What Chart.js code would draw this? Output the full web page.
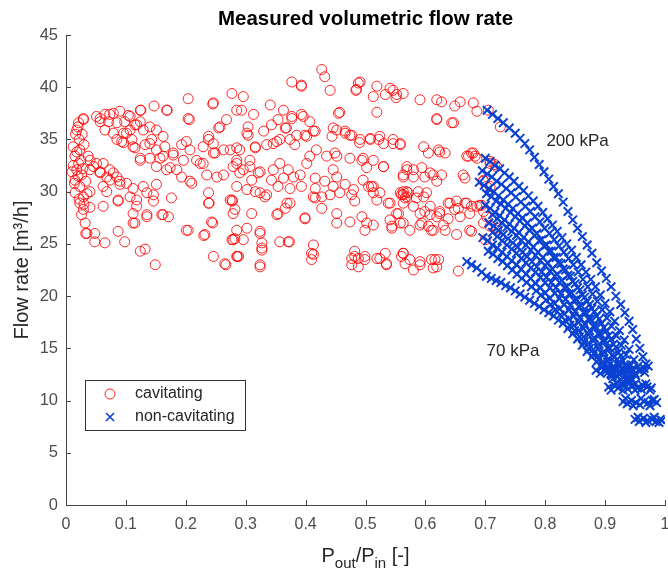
<!DOCTYPE html>
<html>
<head>
<meta charset="utf-8">
<script src="https://cdn.jsdelivr.net/npm/chart.js@4.4.1/dist/chart.umd.min.js"></script>
<style>
  html, body { margin: 0; padding: 0; background: #fff; }
</style>
</head>
<body>
<canvas id="myChart" width="668" height="573"></canvas>
<script>
// [Pout/Pin, flow rate]
const cavitating = [
  [0.204,38.9],[0.277,39.4],[0.245,38.4],[0.147,38.2],[0.169,37.8],[0.125,37.8],[0.206,36.9],[0.268,36.9],[0.255,36.1],[0.285,37.8],
  [0.029,36.9],[0.021,36.6],[0.018,35.9],[0.022,35.0],[0.012,34.3],[0.023,34.0],[0.015,33.4],[0.021,32.7],[0.018,32.1],[0.026,31.6],
  [0.015,31.1],[0.023,30.5],[0.015,29.9],[0.029,29.5],[0.023,28.9],[0.029,28.3],[0.026,27.8],[0.032,27.0],[0.035,26.0],[0.048,26.0],
  [0.048,25.2],[0.065,25.1],[0.040,30.0],
  [0.051,37.2],[0.065,37.4],[0.079,37.5],[0.090,37.7],[0.104,37.3],[0.057,36.7],[0.071,36.7],[0.085,36.6],[0.098,36.7],[0.115,36.4],
  [0.124,36.7],[0.065,35.9],[0.079,35.6],[0.096,35.6],[0.107,35.9],[0.129,35.9],[0.140,36.2],[0.151,35.9],[0.093,34.8],[0.110,35.0],
  [0.115,34.2],[0.132,34.5],[0.143,35.0],[0.162,35.3],[0.165,34.3],[0.179,33.7],[0.151,34.0],[0.157,33.2],[0.124,33.2],[0.140,33.2],
  [0.168,32.1],[0.201,34.8],[0.207,34.0],[0.196,33.0],[0.185,32.1],[0.193,31.4],[0.210,30.8],[0.229,34.3],[0.238,35.0],[0.246,34.6],
  [0.263,34.0],[0.249,33.7],[0.229,32.7],[0.235,31.6],[0.252,31.4],[0.263,31.6],[0.279,32.4],[0.285,34.2],[0.285,30.5],
  [0.040,33.0],[0.046,32.4],[0.057,31.8],[0.062,32.7],[0.073,32.1],[0.073,31.1],[0.085,31.4],[0.090,30.7],[0.101,30.8],[0.112,30.3],
  [0.062,30.5],[0.068,30.0],[0.107,29.5],[0.118,29.2],[0.135,29.9],[0.146,29.7],[0.146,29.1],[0.118,28.6],[0.112,27.9],[0.135,27.6],
  [0.160,27.8],[0.171,27.6],[0.176,29.4],[0.062,28.6],[0.087,29.1],[0.112,27.0],[0.087,26.2],[0.098,25.2],[0.124,24.3],[0.132,24.5],
  [0.149,23.0],[0.201,26.3],[0.232,25.9],[0.243,27.1],[0.238,28.9],[0.238,29.9],[0.246,23.8],[0.265,23.1],[0.279,25.4],[0.285,23.8],
  [0.277,29.2],[0.279,27.9],[0.218,33.0],[0.151,30.7],[0.129,30.5],
  [0.029,37.0],[0.037,33.4],[0.040,32.1],[0.051,32.7],[0.057,31.9],[0.068,31.4],[0.079,31.8],[0.090,31.0],[0.057,37.0],[0.073,37.4],
  [0.107,37.2],[0.118,36.4],[0.124,37.8],[0.168,37.8],[0.101,35.6],[0.096,34.7],[0.085,35.0],[0.112,34.3],[0.124,33.0],[0.140,34.6],
  [0.151,32.4],[0.162,33.4],[0.179,33.5],[0.174,32.3],[0.193,34.5],[0.204,37.0],[0.207,31.0],[0.224,32.7],[0.238,35.3],[0.246,38.5],
  [0.246,33.7],[0.257,36.2],[0.296,39.1],[0.293,37.8],[0.304,36.2],[0.302,35.6],[0.313,37.4],[0.316,34.3],[0.285,32.7],[0.290,31.8],
  [0.307,32.4],[0.310,31.1],[0.324,31.9],[0.341,38.3],[0.330,35.8],[0.346,34.6],[0.363,37.8],[0.368,36.1],[0.357,35.0],[0.377,40.5],
  [0.393,40.1],[0.377,37.2],[0.396,37.2],[0.399,35.4],[0.413,35.8],[0.427,41.7],[0.432,41.0],[0.441,39.7],[0.455,37.5],
  [0.087,29.2],[0.033,26.0],[0.115,27.0],[0.135,27.8],[0.162,27.8],[0.204,26.3],[0.230,25.8],[0.245,27.0],[0.239,28.9],[0.267,23.0],
  [0.278,29.1],[0.282,25.5],[0.286,23.8],[0.302,30.2],[0.310,27.9],[0.324,26.0],[0.327,24.6],[0.324,22.8],[0.335,29.7],[0.352,27.8],
  [0.357,25.2],[0.373,25.2],[0.369,28.9],[0.399,27.4],[0.413,24.9],[0.413,24.0],[0.410,23.5],[0.416,29.4],
  [0.366,36.1],[0.385,35.4],[0.407,36.7],[0.416,35.8],[0.402,35.3],[0.374,35.0],[0.352,34.8],[0.335,34.5],[0.382,34.5],[0.444,35.3],
  [0.452,35.9],[0.466,35.8],[0.477,35.4],[0.490,34.7],[0.508,35.0],[0.522,35.0],[0.530,34.6],[0.546,35.0],[0.558,34.6],[0.274,34.0],
  [0.290,34.0],[0.316,34.2],[0.418,34.0],[0.407,33.4],[0.435,33.4],[0.452,33.4],[0.402,32.7],[0.494,33.0],[0.502,32.3],[0.513,33.0],
  [0.530,32.4],[0.563,31.4],[0.569,32.4],
  [0.285,33.0],[0.296,32.1],[0.307,33.0],[0.321,31.8],[0.346,32.1],[0.357,32.7],[0.371,32.1],[0.380,31.4],[0.391,31.6],[0.363,31.3],
  [0.343,31.1],[0.354,30.5],[0.374,30.3],[0.393,30.5],[0.416,31.3],[0.416,30.3],[0.432,31.0],[0.452,31.4],[0.466,30.7],[0.446,30.5],
  [0.457,29.9],[0.441,29.7],[0.427,29.5],[0.413,29.5],[0.477,29.7],[0.482,29.1],[0.505,30.5],[0.513,29.9],[0.519,29.2],[0.538,28.9],
  [0.563,29.7],[0.569,30.0],[0.555,27.9],[0.541,27.3],[0.544,26.5],[0.563,27.0],[0.274,29.2],[0.282,28.3],[0.324,29.9],[0.332,29.5],
  [0.316,30.0],[0.354,27.9],[0.366,28.4],[0.374,28.9],[0.399,27.5],[0.427,28.4],[0.452,27.9],[0.474,27.1],[0.494,27.6],[0.502,27.0],
  [0.513,26.8],[0.499,26.3],[0.452,27.0],[0.285,26.3],[0.302,26.5],[0.324,26.2],[0.277,25.4],[0.296,25.4],[0.327,25.1],[0.371,25.2],
  [0.327,24.4],[0.410,24.1],[0.288,23.8],[0.324,23.0],[0.482,24.3],[0.488,23.6],[0.477,23.6],[0.499,23.5],[0.488,22.8],[0.519,23.6],
  [0.535,23.1],[0.533,24.1],[0.563,24.1],[0.566,23.1],
  [0.393,40.2],[0.488,40.4],[0.484,39.7],[0.519,40.1],[0.513,39.1],[0.533,39.3],[0.546,39.7],[0.563,39.4],[0.551,39.0],[0.519,37.6],
  [0.457,37.6],[0.393,37.4],[0.377,37.0],[0.354,36.9],[0.343,36.4],[0.304,35.4],
  [0.591,38.8],[0.619,38.8],[0.627,38.6],[0.649,38.2],[0.658,38.6],[0.680,38.5],[0.686,37.7],[0.705,37.8],[0.619,36.9],[0.644,36.6],
  [0.725,36.2],[0.597,34.3],[0.605,33.7],[0.622,34.0],[0.633,33.7],[0.669,33.4],[0.677,33.7],[0.683,33.4],[0.708,32.9],[0.716,32.6],
  [0.563,31.6],[0.580,32.1],[0.594,32.3],[0.599,31.4],[0.613,31.6],[0.627,31.6],[0.666,31.3],[0.697,31.0],[0.708,30.5],[0.558,29.9],
  [0.569,29.5],[0.588,30.0],[0.597,29.5],[0.563,28.9],[0.580,28.6],[0.608,28.6],[0.624,28.1],[0.641,28.9],[0.655,28.4],[0.666,28.9],
  [0.677,28.6],[0.691,28.7],[0.697,28.1],[0.702,27.6],[0.697,27.0],[0.719,26.5],[0.677,26.2],[0.658,27.6],[0.638,27.4],[0.619,27.6],
  [0.599,28.1],[0.594,27.0],[0.610,26.3],[0.630,26.8],[0.558,27.0],[0.574,26.3],[0.563,24.1],[0.574,23.5],[0.591,23.3],[0.580,22.5],
  [0.610,23.5],[0.622,23.5],[0.613,22.7],[0.655,22.4],
  [0.480,30.2],[0.510,30.5],[0.541,28.9],[0.552,27.9],[0.544,26.7],[0.560,29.7],[0.566,29.4],[0.571,29.9],[0.585,29.4],[0.591,27.9],
  [0.591,26.8],[0.605,26.7],[0.608,27.8],[0.624,27.9],[0.638,28.9],[0.649,28.3],[0.652,29.1],[0.669,28.9],[0.674,27.9],[0.686,28.6],
  [0.694,28.7],[0.708,26.7],[0.674,26.3],[0.652,25.9],[0.633,26.3],[0.613,26.3],[0.482,23.8],[0.477,23.0],[0.499,23.8],[0.524,23.6],
  [0.535,23.0],[0.560,23.8],[0.591,23.0],[0.616,23.5],[0.619,22.8],[0.700,25.4],[0.719,26.3],
  [0.491,40.5],[0.485,39.8],[0.541,39.9],[0.552,39.3],[0.619,37.0],[0.647,36.6],[0.446,36.1],[0.466,35.6],[0.474,35.4],[0.491,35.0],
  [0.508,35.1],[0.524,35.3],[0.546,34.6],[0.558,34.5],[0.624,33.8],[0.672,33.4],[0.680,33.7],[0.686,33.2],[0.708,32.7],[0.719,32.4],
  [0.449,33.7],[0.474,33.2],[0.496,33.2],[0.530,32.4],[0.569,32.1],[0.580,31.4],[0.608,31.8],[0.619,31.0],[0.663,31.6],[0.697,31.1],
  [0.702,30.5],[0.446,32.1],[0.496,31.1],[0.513,30.5],[0.524,29.9],[0.563,30.0],[0.602,29.9],
  [0.012,32.5],[0.018,33.8],[0.020,31.5],[0.025,33.0],[0.014,30.8],[0.030,34.5],[0.028,32.2],[0.016,35.5],[0.022,29.3],[0.010,31.9],
  [0.033,31.0],[0.035,29.8],[0.040,28.5],[0.030,28.8],[0.020,36.2],[0.027,35.5]
];

// non-cavitating runs, one list per inlet pressure, top (200 kPa) to bottom (70 kPa)
const run200 = [
  [0.703,37.8],[0.712,37.4],[0.721,37.0],[0.730,36.6],[0.740,36.1],[0.750,35.6],[0.758,35.1],[0.766,34.6],[0.774,34.0],[0.782,33.3],
  [0.790,32.6],[0.798,31.9],[0.806,31.2],[0.814,30.5],[0.822,29.8],[0.830,29.0],[0.838,28.1],[0.846,27.3],[0.854,26.5],[0.862,25.7],
  [0.870,24.9],[0.878,24.1],[0.886,23.2],[0.894,22.4],[0.902,21.7],[0.910,20.9],[0.918,20.0],[0.926,19.2],[0.933,18.4],[0.940,17.6],
  [0.946,16.8],[0.952,15.9],[0.958,15.0],[0.963,14.2],[0.968,13.5]
];
const run180 = [
  [0.700,33.2],[0.708,32.9],[0.716,32.5],[0.724,32.2],[0.732,31.8],[0.740,31.4],[0.748,31.0],[0.756,30.5],[0.764,30.1],[0.772,29.6],
  [0.780,29.1],[0.788,28.6],[0.796,28.0],[0.804,27.4],[0.812,26.8],[0.820,26.2],[0.828,25.6],[0.836,25.0],[0.844,24.4],[0.852,23.7],
  [0.860,23.0],[0.868,22.3],[0.876,21.6],[0.884,20.9],[0.892,20.1],[0.900,19.3],[0.908,18.5],[0.916,17.6],[0.924,16.7],[0.932,15.8],
  [0.940,14.9],[0.948,13.9],[0.956,12.9]
];
const run165 = [
  [0.695,32.0],[0.703,31.7],[0.711,31.4],[0.719,31.0],[0.727,30.7],[0.735,30.3],[0.743,29.9],[0.751,29.5],[0.759,29.0],[0.767,28.6],
  [0.775,28.1],[0.783,27.6],[0.791,27.1],[0.799,26.5],[0.807,26.0],[0.815,25.4],[0.823,24.8],[0.831,24.2],[0.839,23.6],[0.847,23.0],
  [0.855,22.3],[0.863,21.6],[0.871,20.9],[0.879,20.2],[0.887,19.5],[0.895,18.7],[0.903,17.9],[0.911,17.1],[0.919,16.2],[0.927,15.3],
  [0.935,14.4],[0.943,13.4],[0.951,12.4]
];
const run150 = [
  [0.690,30.9],[0.698,30.6],[0.706,30.3],[0.714,30.0],[0.722,29.6],[0.730,29.2],[0.738,28.8],[0.746,28.4],[0.754,27.9],[0.762,27.5],
  [0.770,27.0],[0.778,26.5],[0.786,26.0],[0.794,25.4],[0.802,24.9],[0.810,24.3],[0.818,23.7],[0.826,23.1],[0.834,22.5],[0.842,21.9],
  [0.850,21.2],[0.858,20.6],[0.866,19.9],[0.874,19.2],[0.882,18.5],[0.890,17.8],[0.898,17.0],[0.906,16.2],[0.914,15.4],[0.922,14.6],
  [0.930,13.8],[0.938,12.9],[0.946,12.0]
];
const run140 = [
  [0.702,29.8],[0.710,29.5],[0.718,29.1],[0.726,28.8],[0.734,28.4],[0.742,28.0],[0.750,27.6],[0.758,27.2],[0.766,26.7],[0.774,26.3],
  [0.782,25.8],[0.790,25.3],[0.798,24.8],[0.806,24.3],[0.814,23.7],[0.822,23.2],[0.830,22.6],[0.838,22.0],[0.846,21.4],[0.854,20.8],
  [0.862,20.1],[0.870,19.5],[0.878,18.8],[0.886,18.1],[0.894,17.4],[0.902,16.7],[0.910,15.9],[0.918,15.1],[0.926,14.3],[0.934,13.4],
  [0.942,12.5],[0.950,11.6]
];
const run130 = [
  [0.700,28.7],[0.708,28.4],[0.716,28.0],[0.724,27.7],[0.732,27.3],[0.740,26.9],[0.748,26.5],[0.756,26.1],[0.764,25.6],[0.772,25.2],
  [0.780,24.7],[0.788,24.2],[0.796,23.7],[0.804,23.2],[0.812,22.6],[0.820,22.1],[0.828,21.5],[0.836,20.9],[0.844,20.3],[0.852,19.7],
  [0.860,19.1],[0.868,18.4],[0.876,17.8],[0.884,17.1],[0.892,16.4],[0.900,15.7],[0.908,15.0],[0.916,14.2],[0.924,13.5],[0.932,12.7],
  [0.940,11.9]
];
const run120 = [
  [0.712,27.8],[0.720,27.4],[0.728,27.0],[0.736,26.6],[0.744,26.2],[0.752,25.8],[0.760,25.3],[0.768,24.9],[0.776,24.4],[0.784,23.9],
  [0.792,23.4],[0.800,22.9],[0.808,22.4],[0.816,21.9],[0.824,21.3],[0.832,20.8],[0.840,20.2],[0.848,19.6],[0.856,19.0],[0.864,18.4],
  [0.872,17.8],[0.880,17.1],[0.888,16.4],[0.896,15.7],[0.904,15.0],[0.912,14.3],[0.920,13.5],[0.928,12.7],[0.936,11.9]
];
const run110 = [
  [0.706,27.0],[0.714,26.7],[0.722,26.3],[0.730,25.9],[0.738,25.5],[0.746,25.1],[0.754,24.7],[0.762,24.2],[0.770,23.8],[0.778,23.3],
  [0.786,22.8],[0.794,22.3],[0.802,21.8],[0.810,21.3],[0.818,20.8],[0.826,20.2],[0.834,19.7],[0.842,19.1],[0.850,18.5],[0.858,17.9],
  [0.866,17.3],[0.874,16.7],[0.882,16.0],[0.890,15.4],[0.898,14.7],[0.906,14.0],[0.914,13.3],[0.922,12.6],[0.930,11.8]
];
const run100 = [
  [0.712,26.1],[0.720,25.7],[0.728,25.3],[0.736,24.9],[0.744,24.5],[0.752,24.1],[0.760,23.6],[0.768,23.2],[0.776,22.7],[0.784,22.3],
  [0.792,21.8],[0.800,21.3],[0.808,20.8],[0.816,20.3],[0.824,19.8],[0.832,19.2],[0.840,18.7],[0.848,18.1],[0.856,17.5],[0.864,16.9],
  [0.872,16.3],[0.880,15.7],[0.888,15.0],[0.896,14.4],[0.904,13.7],[0.912,13.0],[0.920,12.3],[0.928,11.6]
];
const run90 = [
  [0.696,25.6],[0.704,25.3],[0.712,24.9],[0.720,24.6],[0.728,24.2],[0.736,23.8],[0.744,23.4],[0.752,23.0],[0.760,22.6],[0.768,22.1],
  [0.776,21.7],[0.784,21.2],[0.792,20.8],[0.800,20.3],[0.808,19.8],[0.816,19.3],[0.824,18.8],[0.832,18.3],[0.840,17.8],[0.848,17.2],
  [0.856,16.7],[0.864,16.1],[0.872,15.5],[0.880,14.9],[0.888,14.3],[0.896,13.7],[0.904,13.1],[0.912,12.4]
];
const run80 = [
  [0.705,24.3],[0.713,24.0],[0.721,23.6],[0.729,23.3],[0.737,22.9],[0.745,22.5],[0.753,22.1],[0.761,21.7],[0.769,21.3],[0.777,20.9],
  [0.785,20.5],[0.793,20.1],[0.801,19.6],[0.809,19.2],[0.817,18.7],[0.825,18.2],[0.833,17.7],[0.841,17.2],[0.849,16.7],[0.857,16.1],
  [0.865,15.6],[0.873,15.0],[0.881,14.5],[0.889,13.9],[0.897,13.3],[0.905,12.7],[0.913,12.1]
];
const run70 = [
  [0.669,23.3],[0.677,23.0],[0.686,22.7],[0.694,22.3],[0.702,21.9],[0.710,21.7],[0.718,21.5],[0.726,21.3],[0.734,21.0],[0.742,20.8],
  [0.750,20.5],[0.758,20.2],[0.766,19.9],[0.774,19.6],[0.782,19.3],[0.790,19.0],[0.798,18.7],[0.806,18.4],[0.814,18.1],[0.822,17.7],
  [0.830,17.4],[0.838,16.9],[0.846,16.4],[0.854,15.9],[0.862,15.3],[0.870,14.7],[0.878,14.2],[0.886,13.7],[0.894,13.2],[0.902,12.9],
  [0.910,12.6]
];
// low-flow end, where the runs pile up in rows
const lowEnd = [
  [0.885,12.9],[0.892,12.6],[0.900,12.8],[0.910,12.5],[0.918,12.9],[0.926,12.7],[0.934,12.4],[0.942,12.8],[0.950,12.6],[0.958,12.9],[0.966,12.7],
  [0.905,13.3],[0.915,13.1],[0.925,13.4],[0.935,13.2],[0.945,13.0],[0.955,13.3],[0.965,13.1],[0.972,13.3],
  [0.906,11.3],[0.914,11.5],[0.922,11.2],[0.930,11.4],[0.938,11.1],[0.946,11.4],[0.954,11.2],[0.962,11.5],[0.970,11.3],[0.977,11.2],
  [0.910,11.0],[0.920,11.6],[0.930,11.0],[0.940,11.6],[0.950,11.0],[0.960,11.1],[0.968,11.6],[0.975,11.0],
  [0.930,9.9],[0.937,9.7],[0.944,10.0],[0.951,9.8],[0.958,9.6],[0.965,9.9],[0.972,9.8],[0.979,10.0],[0.986,9.8],
  [0.934,10.2],[0.947,9.5],[0.960,10.2],[0.975,9.5],[0.982,10.1],
  [0.950,8.2],[0.957,8.0],[0.964,8.3],[0.971,8.1],[0.978,8.2],[0.985,8.0],[0.992,8.2],[0.995,8.1],
  [0.955,8.4],[0.968,7.9],[0.982,8.4],[0.990,7.9]
];

const xTickLabels = ['0','0.1','0.2','0.3','0.4','0.5','0.6','0.7','0.8','0.9','1'];
const yTickLabels = ['0','5','10','15','20','25','30','35','40','45'];

const FONT = '"Liberation Sans", Arial, Helvetica, sans-serif';
const RED = 'rgba(255,0,0,0.85)';
const BLUE = '#0a42d2';

const toXY = arr => arr.map(p => ({x: p[0], y: p[1]}));
const nonCavitating = [].concat(run200, run180, run165, run150, run140, run130, run120,
    run110, run100, run90, run80, run70, lowEnd);

const decor = {
    id: 'decor',
    afterDraw(chart) {
        const {ctx, chartArea: a, scales: {x, y}} = chart;
        ctx.save();

        // MATLAB style ticks, pointing inwards
        ctx.strokeStyle = '#444';
        ctx.lineWidth = 1;
        ctx.beginPath();
        x.ticks.forEach(t => {
            const px = Math.round(x.getPixelForValue(t.value)) + 0.5;
            ctx.moveTo(px, a.bottom);
            ctx.lineTo(px, a.bottom - 5);
        });
        y.ticks.forEach(t => {
            const py = Math.round(y.getPixelForValue(t.value)) + 0.5;
            ctx.moveTo(a.left, py);
            ctx.lineTo(a.left + 5, py);
        });
        ctx.stroke();

        // title
        ctx.fillStyle = '#000';
        ctx.font = 'bold 20.5px ' + FONT;
        ctx.textAlign = 'center';
        ctx.textBaseline = 'alphabetic';
        ctx.fillText('Measured volumetric flow rate', (a.left + a.right) / 2, 25);

        // y label
        ctx.fillStyle = '#262626';
        ctx.save();
        ctx.translate(22, (a.top + a.bottom) / 2);
        ctx.rotate(-Math.PI / 2);
        ctx.font = '20px ' + FONT;
        ctx.textBaseline = 'middle';
        ctx.fillText('Flow rate [m\u00B3/h]', 0, 0);
        ctx.restore();

        // x label with subscripts
        const parts = [['P', 20, 0], ['out', 15, 6], ['/P', 20, 0], ['in', 15, 6], [' [-]', 20, 0]];
        let w = 0;
        parts.forEach(p => { ctx.font = p[1] + 'px ' + FONT; w += ctx.measureText(p[0]).width; });
        let cx = (a.left + a.right) / 2 - w / 2;
        ctx.textAlign = 'left';
        parts.forEach(p => {
            ctx.font = p[1] + 'px ' + FONT;
            ctx.fillText(p[0], cx, 562 + p[2]);
            cx += ctx.measureText(p[0]).width;
        });

        // pressure annotations
        ctx.font = '17px ' + FONT;
        ctx.textBaseline = 'middle';
        ctx.fillText('200 kPa', x.getPixelForValue(0.802), y.getPixelForValue(34.8));
        ctx.fillText('70 kPa', x.getPixelForValue(0.702), y.getPixelForValue(14.7));

        // legend
        ctx.fillStyle = '#fff';
        ctx.fillRect(85.5, 380.5, 160, 50);
        ctx.strokeStyle = '#333';
        ctx.strokeRect(85.5, 380.5, 160, 50);
        ctx.strokeStyle = RED;
        ctx.beginPath();
        ctx.arc(110, 394, 5, 0, Math.PI * 2);
        ctx.stroke();
        ctx.strokeStyle = BLUE;
        ctx.lineWidth = 1.6;
        ctx.beginPath();
        ctx.moveTo(106, 413); ctx.lineTo(114, 421);
        ctx.moveTo(114, 413); ctx.lineTo(106, 421);
        ctx.stroke();
        ctx.fillStyle = '#262626';
        ctx.font = '16px ' + FONT;
        ctx.fillText('cavitating', 135, 394);
        ctx.fillText('non-cavitating', 135, 417);

        ctx.restore();
    }
};

const config = {
    type: 'scatter',
    data: {
        datasets: [{
            label: 'cavitating',
            data: toXY(cavitating),
            pointStyle: 'circle',
            pointRadius: 5,
            borderWidth: 1,
            borderColor: RED,
            backgroundColor: 'rgba(0,0,0,0)',
            order: 2
        }, {
            label: 'non-cavitating',
            data: toXY(nonCavitating),
            pointStyle: 'crossRot',
            pointRadius: 6,
            borderWidth: 2,
            borderColor: BLUE,
            backgroundColor: BLUE,
            order: 1
        }]
    },
    options: {
        responsive: false,
        animation: false,
        events: [],
        layout: { autoPadding: false, padding: { top: 35, right: 3, left: 0, bottom: 0 } },
        scales: {
            x: {
                type: 'linear',
                min: 0,
                max: 1,
                afterFit: s => { s.height = 68; s.paddingLeft = 0; s.paddingRight = 0; },
                ticks: {
                    stepSize: 0.1,
                    padding: 10,
                    maxRotation: 0,
                    color: '#4d4d4d',
                    font: { family: FONT, size: 16 },
                    callback: (v, i) => xTickLabels[i]
                },
                grid: { display: false, drawTicks: false },
                border: { display: true, color: '#444', width: 1 }
            },
            y: {
                type: 'linear',
                min: 0,
                max: 45,
                afterFit: s => { s.width = 66; s.paddingTop = 0; s.paddingBottom = 0; },
                ticks: {
                    stepSize: 5,
                    padding: 8,
                    color: '#4d4d4d',
                    font: { family: FONT, size: 16.5 },
                    callback: (v, i) => yTickLabels[i]
                },
                grid: { display: false, drawTicks: false },
                border: { display: true, color: '#444', width: 1 }
            }
        },
        plugins: {
            legend: { display: false },
            title: { display: false },
            tooltip: { enabled: false }
        }
    },
    plugins: [decor]
};

const ctx = document.getElementById('myChart');

new Chart(ctx, config);
</script>
</body>
</html>
